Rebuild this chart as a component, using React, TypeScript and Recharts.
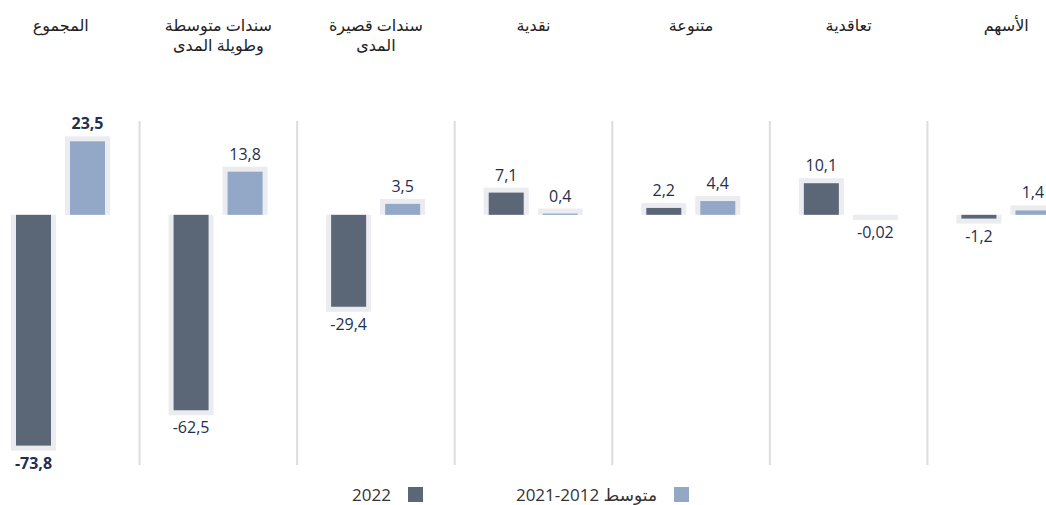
import React from 'react'
import { BarChart, Bar, XAxis, YAxis, ReferenceLine, LabelList } from 'recharts'

const categories = ['الأسهم', 'تعاقدية', 'متنوعة', 'نقدية', 'سندات قصيرة المدى', 'سندات متوسطة وطويلة المدى', 'المجموع']
const categoryLines = [['الأسهم'], ['تعاقدية'], ['متنوعة'], ['نقدية'], ['سندات قصيرة', 'المدى'], ['سندات متوسطة', 'وطويلة المدى'], ['المجموع']]
const values2022 = [-1.2, 10.1, 2.2, 7.1, -29.4, -62.5, -73.8]
const valuesAvg = [1.4, -0.02, 4.4, 0.4, 3.5, 13.8, 23.5]
// the number run is reordered by the bidi algorithm, so it reads 2021-2012 on screen
const seriesNames = ['2022', 'متوسط 2012-2021']

const DARK = '#5b6677'
const LIGHT = '#93a8c6'
const HALO = '#ebecf0'
const NAVY = '#1f2f4e'
const TOTAL = 'المجموع'

const data = categories.map((name, i) => ({
  name,
  lines: categoryLines[i],
  y2022: values2022[i],
  avg: valuesAvg[i],
}))

const fmt = (v: number) => String(v).replace('.', ',')

function makeShape(key: 'y2022' | 'avg', color: string) {
  return (props: any) => {
    const { x, y, width, height, payload } = props
    const v = payload[key]
    const top = Math.min(y, y + height)
    const h = Math.abs(height)
    const halo = 5
    return (
      <g>
        {v >= 0 ? (
          <rect x={x - halo} y={top - halo} width={width + halo * 2} height={h + halo} fill={HALO} />
        ) : (
          <rect x={x - halo} y={top} width={width + halo * 2} height={h + halo} fill={HALO} />
        )}
        <rect x={x} y={top} width={width} height={h} fill={color} />
      </g>
    )
  }
}

function ValueLabel(props: any) {
  const { x, y, width, height, value, index } = props
  const top = Math.min(y, y + height)
  const bottom = Math.max(y, y + height)
  const bold = data[index]?.name === TOTAL
  const ty = value >= 0 ? top - 12 : bottom + 23
  return (
    <text x={x + width / 2} y={ty} textAnchor="middle" fontSize={16}
      fontWeight={bold ? 700 : 400} fill={NAVY}>
      {fmt(value)}
    </text>
  )
}

function CategoryTick(props: any) {
  const { x, payload } = props
  const item = data.find(d => d.name === payload.value)
  const lines = item ? item.lines : [payload.value]
  return (
    <g>
      {lines.map((l, i) => (
        <text key={i} x={x} y={31 + i * 20} textAnchor="middle" fontSize={16} fill="#222">{l}</text>
      ))}
    </g>
  )
}

export default function App() {
  return (
    <div style={{ position: 'absolute', left: 0, top: 0, width: 1046, height: 505, overflow: 'hidden', background: '#fff', fontFamily: '"Open Sans", "DejaVu Sans", sans-serif' }}>
      <div style={{ position: 'absolute', left: -18, top: 0 }}>
        <BarChart width={1103} height={505} data={data} barSize={35} barGap={19}
          margin={{ top: 0, right: 0, left: 0, bottom: 40 }}>
          <XAxis dataKey="name" orientation="top" reversed height={121} interval={0}
            axisLine={false} tickLine={false} tick={<CategoryTick />} />
          <YAxis hide domain={[-80, 30]} />
          {categories.filter(c => c !== TOTAL).map(c => (
            <ReferenceLine key={c} x={c} position="start" stroke="#dddddd" strokeWidth={2} />
          ))}
          <Bar dataKey="y2022" name={seriesNames[0]} fill={DARK} isAnimationActive={false}
            shape={makeShape('y2022', DARK)}>
            <LabelList dataKey="y2022" content={<ValueLabel />} />
          </Bar>
          <Bar dataKey="avg" name={seriesNames[1]} fill={LIGHT} isAnimationActive={false}
            shape={makeShape('avg', LIGHT)}>
            <LabelList dataKey="avg" content={<ValueLabel />} />
          </Bar>
        </BarChart>
      </div>

      {/* Legend */}
      <LegendItem right={623} label={seriesNames[0]} color={DARK} />
      <LegendItem right={357} label={seriesNames[1]} color={LIGHT} />
    </div>
  )
}

function LegendItem({ right, label, color }: { right: number; label: string; color: string }) {
  return (
    <div dir="rtl" style={{ position: 'absolute', right, top: 483, display: 'flex', alignItems: 'center', gap: 17, fontSize: 17, color: '#333', whiteSpace: 'nowrap' }}>
      <span style={{ display: 'inline-block', width: 15, height: 15, background: color }} />
      <span>{label}</span>
    </div>
  )
}
